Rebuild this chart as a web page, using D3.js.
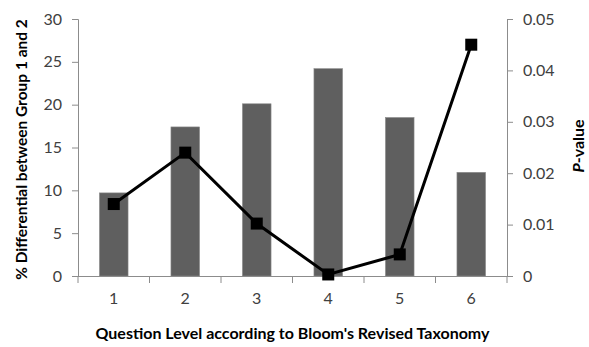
<!DOCTYPE html>
<html><head><meta charset="utf-8">
<script src="https://cdn.jsdelivr.net/npm/d3@7"></script>
<style>body{margin:0;background:#fff}svg{display:block}</style>
</head><body>
<svg id="c" width="589" height="347"></svg>
<script>
const categories = ["1","2","3","4","5","6"];
const differential = [9.7, 17.4, 20.1, 24.2, 18.5, 12.1];
const pValues = [0.014, 0.024, 0.0102, 0.0003, 0.0042, 0.045];
const leftTicks = [0,5,10,15,20,25,30];
const rightTicks = [0,0.01,0.02,0.03,0.04,0.05];

const svg = d3.select("#c");
const L = 78, R = 507, T = 19, B = 276;
const font = "Lato, 'Open Sans', sans-serif";

const x = d3.scaleBand().domain(categories).range([L, R]).paddingInner(0).paddingOuter(0);
const yL = d3.scaleLinear().domain([0,30]).range([B, T]);
const yR = d3.scaleLinear().domain([0,0.05]).range([B, T]);

const axisColor = "#8c8c8c";
const textColor = "#404040";

// bars
const bw = x.bandwidth()*0.4;
svg.append("g").selectAll("rect").data(differential).join("rect")
  .attr("x", (d,i)=>x(categories[i]) + (x.bandwidth()-bw)/2)
  .attr("y", d=>yL(d))
  .attr("width", bw)
  .attr("height", d=>B - yL(d))
  .attr("fill", "#5f5f5f")
  .attr("stroke", "#8a8a8a").attr("stroke-width", 0.6);

// left axis
const gl = svg.append("g").attr("transform", `translate(${L},0)`)
  .call(d3.axisLeft(yL).tickValues(leftTicks).tickSize(6).tickPadding(10).tickFormat(d3.format("d")));
// right axis
const gr = svg.append("g").attr("transform", `translate(${R},0)`)
  .call(d3.axisRight(yR).tickValues(rightTicks).tickSize(6).tickPadding(10).tickFormat(d=> d===0?"0":d3.format(".2f")(d)));
// bottom axis
const gb = svg.append("g").attr("transform", `translate(0,${B})`)
  .call(d3.axisBottom(x).tickSize(0).tickPadding(17));
// boundary ticks for category axis
svg.append("g").selectAll("line").data(d3.range(categories.length+1)).join("line")
  .attr("x1", i=>L + i*x.bandwidth()).attr("x2", i=>L + i*x.bandwidth())
  .attr("y1", B).attr("y2", B+7).attr("stroke", axisColor).attr("stroke-width",1);

[gl,gr,gb].forEach(g=>{
  g.select(".domain").attr("stroke", axisColor).attr("stroke-width",1);
  g.selectAll(".tick line").attr("stroke", axisColor);
  g.selectAll("text").attr("fill", textColor).attr("font-family", font).attr("font-size", 16);
});
gb.select(".domain").attr("d", `M${L},0.5H${R}`);

// line
const line = d3.line().x((d,i)=>x(categories[i]) + x.bandwidth()/2).y(d=>yR(d));
svg.append("path").datum(pValues).attr("d", line)
  .attr("fill","none").attr("stroke","#000").attr("stroke-width",3).attr("stroke-linejoin","miter");
const ms = 12;
svg.append("g").selectAll("rect").data(pValues).join("rect")
  .attr("x",(d,i)=>x(categories[i]) + x.bandwidth()/2 - ms/2)
  .attr("y", d=>yR(d)-ms/2)
  .attr("width", ms).attr("height", ms).attr("fill","#000");

// titles
svg.append("text").attr("transform", `translate(27,${(T+B)/2+2}) rotate(-90)`)
  .attr("text-anchor","middle").attr("font-family",font).attr("font-weight","bold")
  .attr("font-size",15.5).attr("fill","#000").text("% Differential between Group 1 and 2");
const rt = svg.append("text").attr("transform", `translate(584,146) rotate(-90)`)
  .attr("text-anchor","middle").attr("font-family",font).attr("font-weight","bold")
  .attr("font-size",16).attr("fill","#000");
rt.append("tspan").attr("font-style","italic").text("P");
rt.append("tspan").text("-value");
svg.append("text").attr("x", (L+R)/2).attr("y", 339)
  .attr("text-anchor","middle").attr("font-family",font).attr("font-weight","bold")
  .attr("font-size",16).attr("fill","#000").text("Question Level according to Bloom's Revised Taxonomy");
</script>
</body></html>
